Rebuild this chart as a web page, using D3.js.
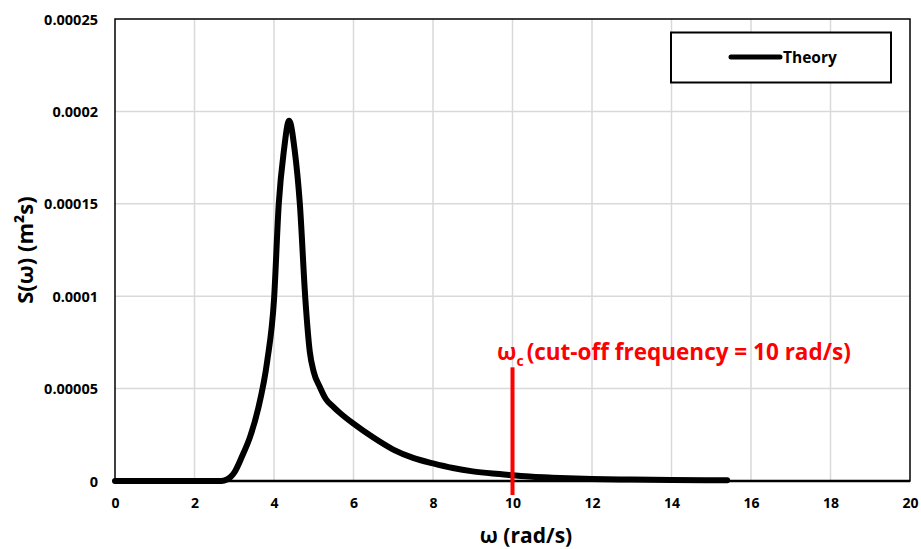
<!DOCTYPE html>
<html>
<head>
<meta charset="utf-8">
<script src="https://cdn.jsdelivr.net/npm/d3@7/dist/d3.min.js"></script>
<style>
  html, body { margin: 0; padding: 0; background: #fff; }
  svg { display: block; font-family: "Open Sans", Lato, sans-serif; font-weight: 700; }
</style>
</head>
<body>
<svg id="chart" width="921" height="549"></svg>
<script>
// Wave spectrum S(ω) against angular frequency ω
const omega = [0, 1, 2, 2.6, 2.75, 2.9, 3.0, 3.2, 3.4, 3.6, 3.83, 4.0, 4.12, 4.25, 4.38,
  4.52, 4.65, 4.79, 4.9, 5.0, 5.15, 5.3, 5.5, 5.65, 6.0, 6.5, 7.0, 7.5, 8.0, 8.5, 9.0,
  9.5, 10.0, 10.5, 11, 12, 13, 14, 15, 15.4];
const spectrum = [0, 0, 0, 0, 0.3e-6, 2e-6, 4.5e-6, 13.5e-6, 24e-6, 39e-6, 65e-6, 98e-6,
  150e-6, 179e-6, 195e-6, 179e-6, 150e-6, 98e-6, 70e-6, 59e-6, 51e-6, 44.5e-6, 40e-6,
  37e-6, 31e-6, 23.5e-6, 17e-6, 12.5e-6, 9.5e-6, 7e-6, 5.2e-6, 4e-6, 3.1e-6, 2.3e-6,
  1.8e-6, 1.1e-6, 0.8e-6, 0.55e-6, 0.4e-6, 0.35e-6];
const seriesName = "Theory";
const xTicks = [0, 2, 4, 6, 8, 10, 12, 14, 16, 18, 20];
const yTicks = [0, 0.00005, 0.0001, 0.00015, 0.0002, 0.00025];
const yTickLabels = ["0", "0.00005", "0.0001", "0.00015", "0.0002", "0.00025"];
const cutoff = 10;
const cutoffTop = 0.0000615;

const svg = d3.select("#chart");
const plotL = 115, plotR = 910, plotT = 19, plotB = 481;

const x = d3.scaleLinear().domain([0, 20]).range([plotL, plotR]);
const y = d3.scaleLinear().domain([0, 0.00025]).range([plotB, plotT]);

// grid
const grid = svg.append("g").attr("stroke", "#d9d9d9").attr("stroke-width", 1.5);
grid.selectAll("line.v").data(xTicks.slice(1, -1)).join("line").attr("class", "v")
  .attr("x1", d => x(d)).attr("x2", d => x(d)).attr("y1", plotT).attr("y2", plotB);
grid.selectAll("line.h").data(yTicks.slice(1, -1)).join("line").attr("class", "h")
  .attr("x1", plotL).attr("x2", plotR).attr("y1", d => y(d)).attr("y2", d => y(d));

// frame
svg.append("rect").attr("x", plotL).attr("y", plotT)
  .attr("width", plotR - plotL).attr("height", plotB - plotT)
  .attr("fill", "none").attr("stroke", "#000").attr("stroke-width", 1.5);
svg.append("line").attr("x1", plotL).attr("x2", plotR).attr("y1", plotB).attr("y2", plotB)
  .attr("stroke", "#000").attr("stroke-width", 2.5);

// axes (labels only)
const xAxis = d3.axisBottom(x).tickValues(xTicks).tickSize(0).tickPadding(0).tickFormat(d3.format("d"));
const gx = svg.append("g").attr("transform", `translate(0,${plotB})`).call(xAxis);
gx.select(".domain").remove();
gx.selectAll("text").attr("y", 27).attr("dy", 0)
  .attr("font-family", "'Open Sans', sans-serif").attr("font-weight", 700)
  .attr("font-size", 14).attr("fill", "#000");

const yAxis = d3.axisLeft(y).tickValues(yTicks).tickSize(0).tickPadding(0)
  .tickFormat((d, i) => yTickLabels[i]);
const gy = svg.append("g").attr("transform", `translate(${plotL},0)`).call(yAxis);
gy.select(".domain").remove();
gy.selectAll("text").attr("x", -17).attr("dy", "0.35em")
  .attr("font-family", "'Open Sans', sans-serif").attr("font-weight", 700)
  .attr("font-size", 14.5).attr("fill", "#000");

// spectrum curve
const pts = omega.map((w, i) => [w, spectrum[i]]);
svg.append("path").datum(pts)
  .attr("fill", "none").attr("stroke", "#000").attr("stroke-width", 6)
  .attr("stroke-linejoin", "round").attr("stroke-linecap", "round")
  .attr("d", d3.line().x(d => x(d[0])).y(d => y(d[1])).curve(d3.curveMonotoneX));

// cut-off marker
svg.append("line")
  .attr("x1", x(cutoff)).attr("x2", x(cutoff))
  .attr("y1", y(cutoffTop)).attr("y2", plotB + 14)
  .attr("stroke", "#ff0000").attr("stroke-width", 4);
const lab = svg.append("text").attr("x", 497).attr("y", 360)
  .attr("fill", "#ff0000").attr("font-size", 22.5);
lab.append("tspan").text("ω");
lab.append("tspan").attr("font-size", 14).attr("dy", 6).text("c");
lab.append("tspan").attr("dy", -6).attr("dx", 3).text("(cut-off frequency = 10 rad/s)");

// legend
svg.append("rect").attr("x", 671).attr("y", 32.5).attr("width", 220).attr("height", 50)
  .attr("fill", "#fff").attr("stroke", "#000").attr("stroke-width", 2);
svg.append("line").attr("x1", 731).attr("x2", 780).attr("y1", 57).attr("y2", 57)
  .attr("stroke", "#000").attr("stroke-width", 5).attr("stroke-linecap", "round");
svg.append("text").attr("x", 783).attr("y", 63).attr("font-size", 15.5).attr("fill", "#000")
  .text(seriesName);

// axis titles
svg.append("text").attr("x", 526).attr("y", 543).attr("text-anchor", "middle")
  .attr("font-size", 21).attr("fill", "#000").text("ω (rad/s)");
svg.append("text").attr("transform", `translate(33,250) rotate(-90)`)
  .attr("text-anchor", "middle").attr("font-size", 22).attr("fill", "#000")
  .text("S(ω) (m²s)");
</script>
</body>
</html>
